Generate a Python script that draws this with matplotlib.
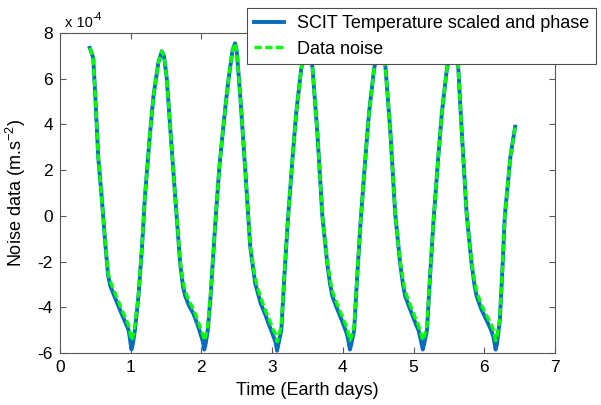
import matplotlib.pyplot as plt

plt.rcParams['font.family'] = ['Liberation Sans', 'DejaVu Sans']
plt.rcParams['axes.unicode_minus'] = False
plt.rcParams['mathtext.fontset'] = 'custom'
plt.rcParams['mathtext.rm'] = 'Liberation Sans'
plt.rcParams['mathtext.it'] = 'Liberation Sans:italic'

# time axis (Earth days)
days = [
    0.42, 0.44, 0.47, 0.50, 0.54, 0.59, 0.64, 0.68, 0.71, 0.76, 0.82, 0.88, 0.93, 0.97, 0.99, 1.01,
    1.03, 1.06, 1.11, 1.16, 1.20, 1.27, 1.32, 1.39, 1.44,
    1.47, 1.51, 1.56, 1.63, 1.70, 1.74, 1.77, 1.82, 1.89, 1.95, 1.99, 2.02, 2.04,
    2.06, 2.09, 2.13, 2.19, 2.25, 2.29, 2.34, 2.38, 2.44, 2.475,
    2.50, 2.55, 2.62, 2.69, 2.76, 2.80, 2.84, 2.90, 2.96, 3.01, 3.05, 3.07,
    3.09, 3.13, 3.17, 3.22, 3.29, 3.34, 3.41, 3.46, 3.50,
    3.53, 3.57, 3.64, 3.71, 3.78, 3.82, 3.85, 3.91, 3.97, 4.02, 4.06, 4.08, 4.10,
    4.12, 4.16, 4.20, 4.25, 4.32, 4.37, 4.44, 4.49, 4.53,
    4.56, 4.60, 4.67, 4.74, 4.81, 4.85, 4.88, 4.94, 4.99, 5.04, 5.07, 5.10, 5.13,
    5.15, 5.19, 5.23, 5.28, 5.35, 5.40, 5.47, 5.52, 5.56,
    5.59, 5.63, 5.68, 5.75, 5.82, 5.86, 5.89, 5.96, 6.03, 6.09, 6.13, 6.16,
    6.18, 6.22, 6.26, 6.29, 6.34, 6.37, 6.40, 6.436,
]

# SCIT temperature scaled and phased (x 1e-4 m.s^-2)
scit = [
    7.35, 7.2, 6.9, 5.2, 2.6, 0.8, -1.2, -2.6, -3.05, -3.45, -3.9, -4.35, -4.7, -5.0, -5.4, -5.85,
    -5.6, -5.0, -3.5, -1.35, 0.8, 3.5, 5.2, 6.7, 7.2,
    7.0, 6.0, 3.8, 0.8, -2.1, -3.1, -3.5, -3.9, -4.3, -4.8, -5.2, -5.5, -5.85,
    -5.6, -5.0, -3.5, -0.6, 2.0, 3.3, 4.8, 5.9, 7.25, 7.55,
    7.2, 5.2, 2.0, -1.35, -2.95, -3.4, -3.85, -4.3, -4.8, -5.2, -5.55, -5.9,
    -5.6, -5.0, -2.8, -0.3, 2.6, 4.5, 6.4, 7.2, 7.35,
    7.2, 6.5, 3.6, 0.0, -2.1, -3.0, -3.5, -4.0, -4.45, -4.85, -5.2, -5.5, -5.85,
    -5.6, -5.0, -2.8, -0.3, 2.6, 4.5, 6.4, 7.2, 7.4,
    7.2, 6.6, 3.76, 0.1, -2.08, -3.0, -3.5, -4.0, -4.4, -4.8, -5.0, -5.4, -5.85,
    -5.6, -5.0, -2.8, -0.3, 2.6, 4.5, 6.4, 7.2, 7.4,
    7.2, 6.6, 3.76, 0.1, -2.08, -3.0, -3.5, -4.1, -4.55, -4.95, -5.3, -5.85,
    -5.6, -4.55, -2.1, 0.0, 1.6, 2.6, 3.2, 3.9,
]

# data noise (x 1e-4 m.s^-2)
noise = [
    7.35, 7.2, 6.9, 5.2, 2.6, 0.8, -1.2, -2.5, -2.85, -3.25, -3.7, -4.15, -4.5, -4.8, -5.1, -5.45,
    -5.3, -4.8, -3.4, -1.3, 0.8, 3.5, 5.2, 6.7, 7.2,
    7.0, 6.0, 3.8, 0.8, -2.0, -2.9, -3.3, -3.7, -4.1, -4.6, -4.95, -5.2, -5.45,
    -5.3, -4.8, -3.4, -0.6, 2.0, 3.3, 4.8, 5.9, 7.25, 7.55,
    7.2, 5.2, 2.0, -1.3, -2.75, -3.2, -3.6, -4.1, -4.55, -4.95, -5.2, -5.5,
    -5.3, -4.8, -2.7, -0.3, 2.6, 4.5, 6.4, 7.2, 7.35,
    7.2, 6.5, 3.6, 0.0, -2.0, -2.8, -3.3, -3.8, -4.25, -4.6, -4.95, -5.2, -5.45,
    -5.3, -4.8, -2.7, -0.3, 2.6, 4.5, 6.4, 7.2, 7.4,
    7.2, 6.6, 3.76, 0.1, -2.0, -2.8, -3.3, -3.8, -4.2, -4.6, -4.8, -5.1, -5.45,
    -5.3, -4.8, -2.7, -0.3, 2.6, 4.5, 6.4, 7.2, 7.4,
    7.2, 6.6, 3.76, 0.1, -2.0, -2.8, -3.3, -3.9, -4.35, -4.7, -5.0, -5.45,
    -5.3, -4.45, -2.1, 0.0, 1.6, 2.6, 3.2, 3.9,
]

fig = plt.figure(figsize=(6.01, 4.05), dpi=100)
ax = fig.add_axes([60 / 601, 52 / 405, 495 / 601, 320 / 405])

ax.plot(days, scit, color='#0a6cc0', lw=2.8, label='SCIT Temperature scaled and phase')
ax.plot(days, noise, color='#00ff00', lw=2.4, dashes=(2.2, 1.0), label='Data noise')

ax.set_xlim(0, 7)
ax.set_ylim(-6, 8)
ax.set_xticks(range(0, 8))
ax.set_yticks(range(-6, 9, 2))
ax.tick_params(direction='in', top=True, right=True, labelsize=12.5, length=4,
               color='0.35', width=0.8, pad=5)
for s in ax.spines.values():
    s.set_color('0.35')
    s.set_linewidth(0.8)

ax.set_xlabel('Time (Earth days)', fontsize=13, labelpad=5)
ax.set_ylabel('Noise data (m.s$^{-2}$)', fontsize=13, labelpad=7)

# MATLAB-style exponent label above the y axis
fig.text(65 / 601, 1 - 27 / 405, 'x 10', fontsize=10.5, ha='left', va='baseline')
fig.text(93 / 601, 1 - 20 / 405, '-4', fontsize=7.5, ha='left', va='baseline')

leg = ax.legend(loc='upper right', bbox_to_anchor=(596 / 601, 1 - 8 / 405),
                bbox_transform=fig.transFigure, borderaxespad=0, fancybox=False,
                framealpha=1, edgecolor='0.3', fontsize=13, handlelength=1.7,
                handletextpad=0.7, borderpad=0.38, labelspacing=0.48)
leg.get_frame().set_linewidth(0.8)
leg.set_zorder(5)

fig.savefig('out.png', dpi=100)
